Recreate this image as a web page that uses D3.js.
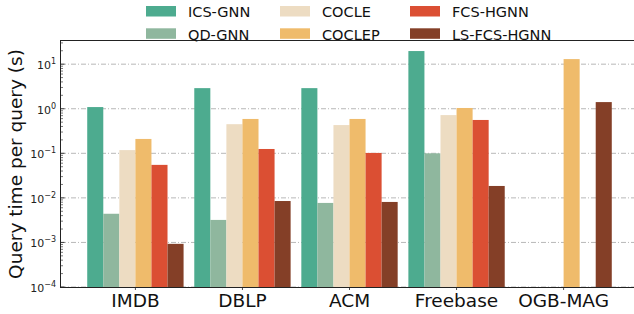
<!DOCTYPE html>
<html>
<head>
<meta charset="utf-8">
<script src="https://cdn.jsdelivr.net/npm/d3@7"></script>
<style>
  body { margin: 0; background: #fff; }
  svg { font-family: "DejaVu Sans", sans-serif; display: block; }
</style>
</head>
<body>
<svg id="chart" width="634" height="314"></svg>
<script>
// Data (seconds per query, log scale)
const datasets = ["IMDB", "DBLP", "ACM", "Freebase", "OGB-MAG"];
const methods = ["ICS-GNN", "QD-GNN", "COCLE", "COCLEP", "FCS-HGNN", "LS-FCS-HGNN"];
const colors = ["#4dab8f", "#8fb79e", "#eddcc2", "#efbb6b", "#db4f33", "#843f27"];

const icsGnn    = [1.09, 2.9, 2.9, 19.7, null];
const qdGnn     = [0.0044, 0.0032, 0.0077, 0.1, null];
const cocle     = [0.118, 0.45, 0.43, 0.72, null];
const coclep    = [0.21, 0.59, 0.59, 1.04, 13.0];
const fcsHgnn   = [0.055, 0.125, 0.102, 0.56, null];
const lsFcsHgnn = [0.00093, 0.0085, 0.0081, 0.0185, 1.41];
const series = [icsGnn, qdGnn, cocle, coclep, fcsHgnn, lsFcsHgnn];

const yTicks = [-4, -3, -2, -1, 0, 1];

const svg = d3.select("#chart");
const mLeft = 61, mRight = 638, mTop = 41, mBottom = 287;

const x = d3.scaleLinear().domain([-0.695, 4.695]).range([mLeft, mRight]);
const y = d3.scaleLog().domain([1e-4, Math.pow(10, 1.52)]).range([mBottom, mTop]);
const barW = 0.15;

// Grid
svg.append("g")
  .selectAll("line")
  .data(yTicks)
  .enter().append("line")
  .attr("x1", mLeft).attr("x2", mRight)
  .attr("y1", d => y(Math.pow(10, d))).attr("y2", d => y(Math.pow(10, d)))
  .attr("stroke", "#b0b0b0")
  .attr("stroke-width", 0.9)
  .attr("stroke-dasharray", "5,2,1,2");

// Bars
series.forEach((vals, k) => {
  svg.append("g")
    .selectAll("rect")
    .data(vals.map((v, i) => ({ v, i })).filter(d => d.v != null))
    .enter().append("rect")
    .attr("x", d => x(d.i + (k - 2.5) * barW - barW / 2))
    .attr("width", x(barW) - x(0))
    .attr("y", d => y(d.v))
    .attr("height", d => mBottom - y(d.v))
    .attr("fill", colors[k]);
});

// Y axis minor + major ticks (inward)
const minor = [];
for (let e = -4; e <= 1; e++) {
  for (let m = 2; m <= 9; m++) {
    const v = m * Math.pow(10, e);
    if (v <= y.domain()[1]) minor.push(v);
  }
}
svg.append("g").selectAll("line")
  .data(minor).enter().append("line")
  .attr("x1", mLeft).attr("x2", mLeft + 2)
  .attr("y1", d => y(d)).attr("y2", d => y(d))
  .attr("stroke", "#222").attr("stroke-width", 0.6);
svg.append("g").selectAll("line")
  .data(yTicks).enter().append("line")
  .attr("x1", mLeft).attr("x2", mLeft + 3.5)
  .attr("y1", d => y(Math.pow(10, d))).attr("y2", d => y(Math.pow(10, d)))
  .attr("stroke", "#222").attr("stroke-width", 0.8);

// Y tick labels 10^n
const yl = svg.append("g").selectAll("text")
  .data(yTicks).enter().append("text")
  .attr("x", mLeft - 5)
  .attr("y", d => y(Math.pow(10, d)) + 5)
  .attr("text-anchor", "end")
  .attr("fill", "#222")
  .style("font-size", "11px");
yl.append("tspan").text("10");
yl.append("tspan")
  .attr("dy", -5)
  .style("font-size", "8px")
  .text(d => d < 0 ? "\u2212" + (-d) : String(d));

// X ticks and labels
svg.append("g").selectAll("line")
  .data(datasets).enter().append("line")
  .attr("x1", (d, i) => x(i)).attr("x2", (d, i) => x(i))
  .attr("y1", mBottom).attr("y2", mBottom + 3)
  .attr("stroke", "#222").attr("stroke-width", 0.8);
svg.append("g").selectAll("text")
  .data(datasets).enter().append("text")
  .attr("x", (d, i) => x(i))
  .attr("y", 306.5)
  .attr("text-anchor", "middle")
  .attr("fill", "#111")
  .style("font-size", "18.5px")
  .text(d => d);

// Spines
svg.append("rect")
  .attr("x", mLeft - 0.5).attr("y", mTop - 0.5)
  .attr("width", mRight - mLeft + 1).attr("height", mBottom - mTop + 1)
  .attr("fill", "none").attr("stroke", "#222").attr("stroke-width", 1);

// Y label
svg.append("text")
  .attr("transform", `translate(22,${(mTop + mBottom) / 2}) rotate(-90)`)
  .attr("text-anchor", "middle")
  .attr("fill", "#111")
  .style("font-size", "18.5px")
  .text("Query time per query (s)");

// Legend: 3 columns x 2 rows, column-major
const legX = [146, 280, 410];
const legY = [6, 28.3];
const leg = svg.append("g").selectAll("g")
  .data(methods).enter().append("g")
  .attr("transform", (d, i) => `translate(${legX[Math.floor(i / 2)]},${legY[i % 2]})`);
leg.append("rect")
  .attr("width", 30).attr("height", 10.5)
  .attr("fill", (d, i) => colors[i]);
leg.append("text")
  .attr("x", 42).attr("y", 11.3)
  .attr("fill", "#111")
  .style("font-size", "14.5px")
  .text(d => d);
</script>
</body>
</html>
